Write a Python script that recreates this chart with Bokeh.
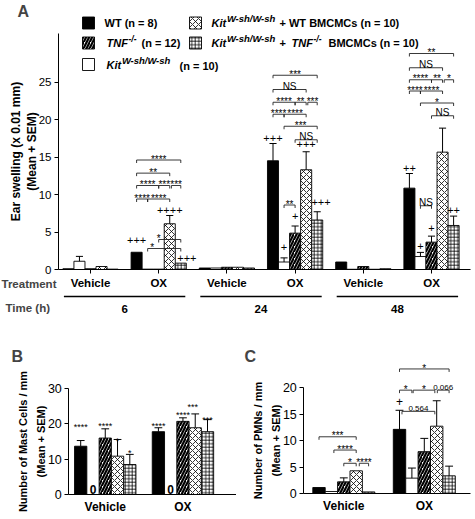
from bokeh.plotting import figure
from bokeh.models import Range1d, FixedTicker, Label
from bokeh.layouts import column, row
from bokeh.embed import file_html
from bokeh.resources import INLINE
from bokeh.core.properties import value

FONT = "Liberation Sans"

# ---------------- Panel A data (ear swelling, x 0.01 mm) ----------------
a_treatments = ["Vehicle", "OX", "Vehicle", "OX", "Vehicle", "OX"]
a_times = ["6", "24", "48"]
series_keys = ["WT", "Kit", "TNF", "KitWT", "KitTNF"]

a_wt = [0.1, 2.3, 0.2, 14.5, 1.0, 10.85]
a_wt_err = [0, 0, 0, 2.3, 0, 1.95]
a_kit = [1.1, 0.05, 0.2, 1.0, 0.03, 1.73]
a_kit_err = [0.65, 0, 0, 0.55, 0, 0.55]
a_tnf = [0.1, 0.05, 0.3, 4.85, 0.4, 3.65]
a_tnf_err = [0, 0, 0, 0.95, 0, 0.8]
a_kitwt = [0.4, 6.1, 0.3, 13.3, 0.03, 15.65]
a_kitwt_err = [0, 1.1, 0, 2.4, 0, 3.2]
a_kittnf = [0.05, 0.85, 0.2, 6.6, 0.1, 5.87]
a_kittnf_err = [0, 0, 0, 1.1, 0, 1.25]

# significance brackets (group index, from bar, to bar, y, label, label bar pos)
a_brk_group = [1] * 9 + [3] * 10 + [5] * 10
a_brk_from = [0, 0, 0, 2, 3.15, 0, 1, 2, 1,
              0, 0, 0, 2, 3.15, 0, 1, 1, 2, 1,
              0, 0, 0, 2, 3.15, 0, 1, 1, 2, 1]
a_brk_to = [4, 3, 2, 3, 4, 1, 3, 4, 4,
            4, 3, 2, 3, 4, 1, 3, 4, 4, 2,
            4, 3, 2, 3, 4, 1, 3, 4, 4, 2]
a_brk_y = [14.6, 12.85, 11.2, 11.2, 11.2, 9.4, 9.4, 4.0, 2.8,
           25.9, 24.0, 22.3, 22.3, 22.3, 20.7, 20.7, 19.1, 17.3, 8.6,
           28.8, 26.9, 25.3, 25.3, 25.3, 23.8, 23.8, 22.2, 20.5, 8.5]
a_brk_label = ["****", "**", "****", "***", "***", "****", "****", "*", "*",
               "***", "NS", "****", "**", "***", "****", "****", "***", "NS", "**",
               "**", "NS", "****", "**", "*", "****", "****", "*", "NS", "NS"]
a_brk_lpos = [None] * 7 + [2.0, 1.4] + [None] * 20

a_plus_group = [1, 1, 1, 3, 3, 3, 3, 3, 5, 5, 5, 5]
a_plus_bar = [0, 3, 4.55, 0, 1, 2, 3, 4.35, 0, 1, 2, 4]
a_plus_y = [3.9, 8.0, 1.6, 17.5, 3.0, 7.1, 16.7, 9.0, 13.5, 3.2, 5.6, 8.0]
a_plus_text = ["+++", "++++", "+++", "+++", "+", "+", "+++", "+++", "++", "+", "+", "++"]

# ---------------- Panel B data (mast cells / mm) ----------------
b_treatments = ["Vehicle", "OX"]
b_wt = [13.6, 17.7]
b_wt_err = [1.6, 1.1]
b_kit = [0, 0]
b_kit_err = [0, 0]
b_tnf = [15.9, 20.6]
b_tnf_err = [2.6, 1.0]
b_kitwt = [10.8, 18.8]
b_kitwt_err = [4.7, 3.9]
b_kittnf = [8.45, 17.7]
b_kittnf_err = [2.85, 3.4]

b_star_group = [0, 0, 0, 0, 1, 1, 1, 1]
b_star_bar = [0, 2, 3, 4, 0, 2, 2.8, 4]
b_star_y = [20.4, 20.8, 16.6, 13.3, 20.7, 23.9, 26.2, 22.5]
b_star_text = ["****", "****", "*", "*", "****", "****", "***", "***"]

# ---------------- Panel C data (PMNs / mm) ----------------
c_treatments = ["Vehicle", "OX"]
c_wt = [1.13, 12.1]
c_wt_err = [0, 3.6]
c_kit = [0.38, 2.9]
c_kit_err = [0, 1.9]
c_tnf = [2.2, 7.9]
c_tnf_err = [0.75, 2.5]
c_kitwt = [4.28, 12.7]
c_kitwt_err = [0, 4.8]
c_kittnf = [0.3, 3.33]
c_kittnf_err = [0, 1.83]

c_brk_group = [0, 0, 0, 0, 1, 1, 1, 1, 1]
c_brk_from = [0, 1.2, 2, 3.25, 0, 0, 1.1, 3.05, 0.2]
c_brk_to = [3, 3, 3, 4, 4, 1, 2.85, 4, 2.85]
c_brk_y = [10.7, 8.2, 5.7, 5.7, 23.5, 19.5, 19.5, 19.5, 15.5]
c_brk_label = ["***", "****", "*", "****", "*", "*", "*", "0.066", "0.564"]

c_plus_group = [1]
c_plus_bar = [0]
c_plus_y = [17.3]
c_plus_text = ["+"]

# ---------------- styles ----------------
STYLES = {
    "WT": dict(fill_color="black"),
    "Kit": dict(fill_color="white"),
    "TNF": dict(fill_color="white", hatch_pattern="/", hatch_scale=6, hatch_weight=2.2, hatch_color="black"),
    "KitWT": dict(fill_color="white", hatch_pattern="x", hatch_scale=6, hatch_weight=0.8, hatch_color="black"),
    "KitTNF": dict(fill_color="white", hatch_pattern="+", hatch_scale=3.5, hatch_weight=0.8, hatch_color="black"),
}


class Mapper:
    """page-pixel <-> data conversion for a figure whose frame fills its canvas"""
    def __init__(self, left, top, w, h, x0px, sx, y0px, sy):
        self.left, self.top, self.w, self.h = left, top, w, h
        self.x0px, self.sx, self.y0px, self.sy = x0px, sx, y0px, sy

    def X(self, px):
        return (px - self.x0px) / self.sx

    def Y(self, py):
        return (self.y0px - py) / self.sy

    def xr(self):
        return (self.X(self.left), self.X(self.left + self.w))

    def yr(self):
        return (self.Y(self.top + self.h), self.Y(self.top))


def make_fig(m):
    p = figure(width=m.w, height=m.h, x_range=Range1d(*m.xr()), y_range=Range1d(*m.yr()),
               output_backend="svg", toolbar_location=None,
               min_border_left=0, min_border_right=0, min_border_top=0, min_border_bottom=0)
    p.xgrid.visible = False
    p.ygrid.visible = False
    p.outline_line_color = None
    p.background_fill_color = "white"
    p.border_fill_color = "white"
    for ax in (p.xaxis[0], p.yaxis[0]):
        ax.axis_line_color = "black"
        ax.axis_line_width = 1
        ax.major_tick_line_color = "black"
        ax.major_tick_in = 0
        ax.major_tick_out = 4
        ax.minor_tick_line_color = None
        ax.major_label_text_font = FONT
        ax.axis_label_text_font = FONT
        ax.axis_label_text_font_style = "bold"
        ax.major_label_text_color = "black"
        ax.axis_label_text_color = "black"
    return p


def draw_bars(p, centers, series, errors, w, cap):
    for k, (key, vals, errs) in enumerate(zip(series_keys, series, errors)):
        xs = [c + (k - 2) * w for c in centers]
        p.vbar(x=xs, top=vals, bottom=0, width=w, line_color="black", line_width=0.9, **STYLES[key])
        ex = [x for x, e in zip(xs, errs) if e > 0]
        e0 = [v for v, e in zip(vals, errs) if e > 0]
        e1 = [v + e for v, e in zip(vals, errs) if e > 0]
        if ex:
            p.segment(x0=ex, y0=e0, x1=ex, y1=e1, line_color="black", line_width=1)
            p.segment(x0=[x - cap for x in ex], y0=e1, x1=[x + cap for x in ex], y1=e1,
                      line_color="black", line_width=1)


def draw_brackets(p, centers, w, groups, b0, b1, ys, labels, lpos, tick, sy, star_px, other_px):
    xs_l, ys_l = [], []
    sx, sy_, st = [], [], []
    ox, oy, ot = [], [], []
    for g, s0, s1, y, lab, lp in zip(groups, b0, b1, ys, labels, lpos):
        x0 = centers[g] + (s0 - 2) * w
        x1 = centers[g] + (s1 - 2) * w
        xs_l.append([x0, x0, x1, x1])
        ys_l.append([y - tick, y, y, y - tick])
        lx = (x0 + x1) / 2 if lp is None else centers[g] + (lp - 2) * w
        if lab.startswith("*"):
            sx.append(lx); sy_.append(y + 0.8 / sy); st.append(lab)
        else:
            ox.append(lx); oy.append(y + 2.8 / sy); ot.append(lab)
    p.multi_line(xs_l, ys_l, line_color="#222222", line_width=0.9)
    p.text(sx, sy_, text=st, text_font=value(FONT), text_font_size=star_px,
           text_align="center", text_baseline="alphabetic", text_color="black")
    p.text(ox, oy, text=ot, text_font=value(FONT), text_font_size=other_px,
           text_align="center", text_baseline="alphabetic", text_color="black")


def style_value_axis(ax, fixed_x, bounds, ticks, label, lab_px, tick_px, standoff, lh):
    ax.fixed_location = fixed_x
    ax.bounds = bounds
    ax.ticker = FixedTicker(ticks=ticks)
    ax.major_label_text_font_size = tick_px
    ax.major_label_standoff = 3
    ax.axis_label = label
    ax.axis_label_text_font_size = lab_px
    ax.axis_label_standoff = standoff
    ax.axis_label_text_line_height = lh


def style_cat_axis(ax, bounds, ticks, labels, font_px, tick_out, standoff):
    ax.fixed_location = 0
    ax.bounds = bounds
    ax.ticker = FixedTicker(ticks=ticks)
    ax.major_label_overrides = {i: t for i, t in zip(ticks, labels)}
    ax.major_label_text_font_style = "bold"
    ax.major_label_text_font_size = font_px
    ax.major_tick_out = tick_out
    ax.major_label_standoff = standoff


TOTAL_W = 472

# ======================= Panel A =======================
mA = Mapper(0, 0, TOTAL_W, 336, x0px=90, sx=68.2, y0px=269, sy=7.5)
pA = make_fig(mA)
a_centers = list(range(len(a_treatments)))
A_BW = 0.162
draw_bars(pA, a_centers, [a_wt, a_kit, a_tnf, a_kitwt, a_kittnf],
          [a_wt_err, a_kit_err, a_tnf_err, a_kitwt_err, a_kittnf_err], A_BW, 0.052)
draw_brackets(pA, a_centers, A_BW, a_brk_group, a_brk_from, a_brk_to, a_brk_y, a_brk_label,
              a_brk_lpos, 3 / mA.sy, mA.sy, "10px", "10px")
pA.text([a_centers[g] + (b - 2) * A_BW for g, b in zip(a_plus_group, a_plus_bar)], a_plus_y,
        text=a_plus_text, text_font=value(FONT), text_font_size="11px",
        text_align="center", text_baseline="middle", text_color="black")

style_cat_axis(pA.xaxis[0], (mA.X(58), mA.X(470)), a_centers, a_treatments, "11.5px", 4, 3)
style_value_axis(pA.yaxis[0], mA.X(58), (0, 31.5), [0, 5, 10, 15, 20, 25],
                 "Ear swelling (x 0.01 mm)\n(Mean + SEM)", "12px", "11.5px", -3, 1.1)

# time group lines and labels
tl_x0 = [2 * i - 0.39 for i in range(len(a_times))]
tl_x1 = [2 * i + 1.39 for i in range(len(a_times))]
pA.segment(x0=tl_x0, y0=[mA.Y(296)] * 3, x1=tl_x1, y1=[mA.Y(296)] * 3, line_color="black", line_width=1.3)
pA.text([2 * i + 0.5 for i in range(len(a_times))], [mA.Y(308)] * 3, text=a_times,
        text_font=value(FONT), text_font_size="11.5px", text_font_style="bold",
        text_align="center", text_baseline="middle", text_color="black")
pA.add_layout(Label(x=mA.X(1), y=mA.Y(283), text="Treatment", text_font=FONT, text_font_size="11.5px",
                    text_font_style="bold", text_baseline="middle", text_align="left"))
pA.add_layout(Label(x=mA.X(5), y=mA.Y(307), text="Time (h)", text_font=FONT, text_font_size="11.5px",
                    text_font_style="bold", text_baseline="middle", text_align="left"))
pA.add_layout(Label(x=mA.X(17), y=mA.Y(2), text="A", text_font=FONT, text_font_size="16px",
                    text_font_style="bold", text_baseline="top", text_align="left"))

# legend
leg_keys = ["WT", "TNF", "Kit", "KitWT", "KitTNF"]
leg_px = [82, 82, 82, 189, 189]
leg_py = [22.5, 42.5, 64, 22.5, 42.5]
for k, px, py in zip(leg_keys, leg_px, leg_py):
    pA.quad(left=[mA.X(px)], right=[mA.X(px + 12)], top=[mA.Y(py - 6)], bottom=[mA.Y(py + 6)],
            line_color="black", line_width=0.9, **STYLES[k])
leg_text = [
    (104, 22.5, "WT (n = 8)", "11px", "bold"),
    (106, 42.5, "TNF", "11px", "bold italic"),
    (128, 38, "-/-", "8.5px", "bold italic"),
    (141, 42.5, "(n = 12)", "11px", "bold"),
    (106, 64, "Kit", "11px", "bold italic"),
    (121.5, 59.5, "W-sh/W-sh", "9.5px", "bold italic"),
    (179, 65.5, "(n = 10)", "11px", "bold"),
    (211, 22.5, "Kit", "11px", "bold italic"),
    (226.5, 18, "W-sh/W-sh", "9.5px", "bold italic"),
    (279, 22.5, "+ WT BMCMCs (n = 10)", "11px", "bold"),
    (211, 42.5, "Kit", "11px", "bold italic"),
    (226.5, 38, "W-sh/W-sh", "9.5px", "bold italic"),
    (279, 42.5, "+", "11px", "bold"),
    (291, 42.5, "TNF", "11px", "bold italic"),
    (313, 38, "-/-", "8.5px", "bold italic"),
    (328, 42.5, "BMCMCs (n = 10)", "11px", "bold"),
]
for px, py, t, fs, st in leg_text:
    pA.text([mA.X(px)], [mA.Y(py)], text=[t], text_font=value(FONT), text_font_size=fs,
            text_font_style=st, text_align="left", text_baseline="middle", text_color="black")

# ======================= Panel B =======================
mB = Mapper(0, 336, 236, 179, x0px=104.75, sx=77.7, y0px=494, sy=3.55)
pB = make_fig(mB)
b_centers = list(range(len(b_treatments)))
B_BW = 0.158
draw_bars(pB, b_centers, [b_wt, b_kit, b_tnf, b_kitwt, b_kittnf],
          [b_wt_err, b_kit_err, b_tnf_err, b_kitwt_err, b_kittnf_err], B_BW, 0.05)
pB.text([b_centers[g] + (b - 2) * B_BW for g, b in zip(b_star_group, b_star_bar)],
        [y - 0.58 * 9 / mB.sy for y in b_star_y], text=b_star_text, text_font=value(FONT),
        text_font_size="9px", text_align="center", text_baseline="alphabetic", text_color="black")
pB.text([c + (1 - 2) * B_BW for c in b_centers], b_kit, text=["0" for _ in b_kit],
        text_font=value(FONT), text_font_size="12px", text_font_style="bold",
        text_align="center", text_baseline="bottom", text_color="black", y_offset=-1)
style_cat_axis(pB.xaxis[0], (mB.X(68.3), mB.X(236)), b_centers, b_treatments, "12px", 0, 5)
style_value_axis(pB.yaxis[0], mB.X(68.3), (0, 30), [0, 10, 20, 30],
                 "Number of Mast Cells / mm\n(Mean + SEM)", "11px", "12.5px", -2, 1.5)
pB.add_layout(Label(x=mB.X(11), y=mB.Y(347), text="B", text_font=FONT,
                    text_font_size="16px", text_font_style="bold", text_baseline="top", text_align="left"))

# ======================= Panel C =======================
mC = Mapper(236, 336, 236, 179, x0px=343.3, sx=80.5, y0px=493, sy=5.3)
pC = make_fig(mC)
c_centers = list(range(len(c_treatments)))
C_BW = 0.154
draw_bars(pC, c_centers, [c_wt, c_kit, c_tnf, c_kitwt, c_kittnf],
          [c_wt_err, c_kit_err, c_tnf_err, c_kitwt_err, c_kittnf_err], C_BW, 0.049)
draw_brackets(pC, c_centers, C_BW, c_brk_group, c_brk_from, c_brk_to, c_brk_y, c_brk_label,
              [None] * len(c_brk_label), 3 / mC.sy, mC.sy, "10px", "8px")
pC.text([c_centers[g] + (b - 2) * C_BW for g, b in zip(c_plus_group, c_plus_bar)], c_plus_y,
        text=c_plus_text, text_font=value(FONT), text_font_size="12px",
        text_align="center", text_baseline="middle", text_color="black")
style_cat_axis(pC.xaxis[0], (mC.X(303.3), mC.X(470)), c_centers, c_treatments, "12px", 0, 5)
style_value_axis(pC.yaxis[0], mC.X(303.3), (0, 20), [0, 5, 10, 15, 20],
                 "Number of PMNs / mm\n(Mean + SEM)", "11px", "12.5px", -2, 1.45)
pC.add_layout(Label(x=mC.X(244), y=mC.Y(347), text="C", text_font=FONT,
                    text_font_size="16px", text_font_style="bold", text_baseline="top", text_align="left"))

layout = column(pA, row(pB, pC))
open("out.html", "w").write(file_html(layout, INLINE))
